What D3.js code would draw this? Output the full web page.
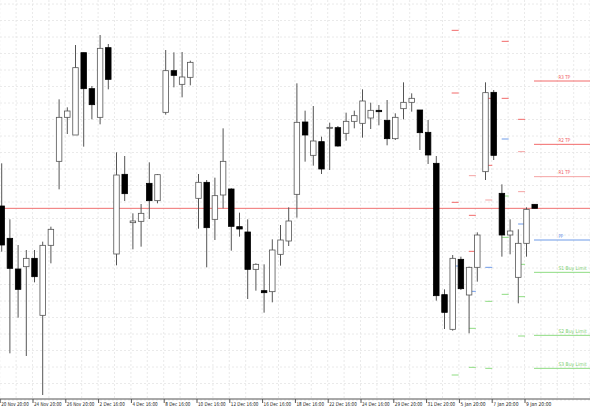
<!DOCTYPE html>
<html>
<head>
<meta charset="utf-8">
<script src="https://cdn.jsdelivr.net/npm/d3@7"></script>
<style>
body { margin: 0; background: #fff; }
svg { display: block; font-family: "DejaVu Sans", sans-serif; }
</style>
</head>
<body>
<svg width="590" height="410"></svg>
<script>
// price levels in chart quote units (inverted: larger number = lower price)
const opens  = [558,655,747,740,715,886,676,424,292,345,98,206,292,83,702,463,608,604,490,542,277,152,193,172,
  535,487,598,525,507,620,636,748,812,815,703,663,523,306,406,365,325,323,340,304,310,294,271,301,356,266,247,270,337,430,824,928,718,825,742,455,217,520,645,772,670,553];
const closes = [675,745,808,715,770,676,628,292,273,143,206,254,85,178,465,521,603,580,542,464,152,166,171,127,
  487,623,527,424,619,627,748,733,818,690,660,603,307,345,363,447,322,378,304,287,243,271,275,356,292,247,235,338,405,827,877,715,806,742,645,218,406,645,633,670,568,565];
const highs  = [430,598,675,690,690,665,620,238,262,75,98,198,45,72,397,408,580,552,427,462,90,97,96,122,
  462,480,473,325,505,578,598,730,733,658,615,562,190,272,258,350,308,318,278,272,208,248,255,240,280,187,220,270,300,408,808,705,710,740,637,187,210,493,598,628,562,553];
const lows   = [695,1000,893,1008,787,1125,730,508,342,345,380,298,313,208,736,543,688,680,597,550,284,202,232,196,
  626,742,660,565,692,650,837,812,878,847,737,678,593,425,437,462,450,380,362,325,353,327,316,376,360,298,275,390,432,842,927,932,810,940,785,480,420,710,703,850,710,565];

const tickLabels = ["20 Nov 20:00","24 Nov 20:00","26 Nov 20:00","2 Dec 16:00","4 Dec 16:00","8 Dec 16:00",
  "10 Dec 16:00","12 Dec 16:00","16 Dec 16:00","18 Dec 16:00","22 Dec 16:00","24 Dec 16:00","29 Dec 20:00",
  "31 Dec 20:00","5 Jan 20:00","7 Jan 20:00","9 Jan 20:00"];

const currentLevel = 565;
// current pivot levels (name, level, kind)
const pivotNames  = ["R3 TP","R2 TP","R1 TP","PP","S1 Buy Limit","S2 Buy Limit","S3 Buy Limit"];
const pivotLevels = [183,373,470,660,757,946,1045];
const pivotKinds  = ["r","r","p","b","g","g","g"];
// historical pivot dashes: candle position, level, kind
const histPos    = [55.3,55.3,55.3,55.3,55.3, 57.4,57.4,57.4,57.4,57.4,57.4, 59.4,59.4,59.4,59.4,59.4,59.4,
  61.4,61.4,61.4,61.4,61.4,61.4, 63.4,63.4,63.4,63.4,63.4,63.4,63.4];
const histLevels = [31,219,547,738,1065, 467,586,694,814,925,1042, 235,436,540,742,844,1045,
  64,235,357,528,652,823, 298,395,515,612,733,830,948];
const histKinds  = ["r","r","r","b","g", "p","r","r","b","g","g", "r","r","p","b","g","g",
  "r","r","b","g","g","g", "r","p","p","b","g","g","g"];

const colors = { r: "#f26a6a", p: "#f5a3a3", b: "#6f9be8", g: "#8fdc82" };
const textColors = { r: "#f05a5a", p: "#f05a5a", b: "#5b8be6", g: "#7ccf6e" };

const svg = d3.select("svg");
const W = 590, axisY = 399;

const x = d3.scaleLinear().domain([0, 65]).range([1.7, 534.7]);
const y = d3.scaleLinear().domain([0, 1140]).range([20, 400]);

// grid
const grid = svg.append("g").attr("stroke", "#e4e4e4").attr("stroke-dasharray", "2,2").attr("stroke-width", 0.8);
grid.selectAll("line.v").data(d3.range(0, 37)).join("line")
  .attr("x1", d => x(d * 2) - 2).attr("x2", d => x(d * 2) - 2).attr("y1", 0).attr("y2", axisY);
grid.selectAll("line.h").data(d3.range(0, 25)).join("line")
  .attr("x1", 0).attr("x2", W).attr("y1", d => 4 + d * 16.5).attr("y2", d => 4 + d * 16.5);

// current price line
svg.append("line").attr("x1", 0).attr("x2", W)
  .attr("y1", y(currentLevel)).attr("y2", y(currentLevel))
  .attr("stroke", "#f07070").attr("stroke-width", 1);

// historical pivot dashes
svg.append("g").selectAll("line").data(histPos).join("line")
  .attr("x1", (d) => x(d) - 3.5).attr("x2", d => x(d) + 3.5)
  .attr("y1", (d, i) => y(histLevels[i])).attr("y2", (d, i) => y(histLevels[i]))
  .attr("stroke", (d, i) => colors[histKinds[i]]).attr("stroke-width", 1);

// current pivots
const piv = svg.append("g");
piv.selectAll("line").data(pivotLevels).join("line")
  .attr("x1", 534).attr("x2", W).attr("y1", d => y(d)).attr("y2", d => y(d))
  .attr("stroke", (d, i) => colors[pivotKinds[i]]).attr("stroke-width", 1);
piv.selectAll("text").data(pivotLevels).join("text")
  .attr("x", 558.5).attr("y", d => y(d) - 2.5)
  .attr("font-size", 5).attr("fill", (d, i) => textColors[pivotKinds[i]])
  .attr("textLength", (d, i) => pivotNames[i].length * 2.35).attr("lengthAdjust", "spacingAndGlyphs")
  .text((d, i) => pivotNames[i]);

// candles
const cw = 5.5;
const c = svg.append("g").selectAll("g").data(opens).join("g");
c.append("line")
  .attr("x1", (d, i) => x(i)).attr("x2", (d, i) => x(i))
  .attr("y1", (d, i) => y(highs[i])).attr("y2", (d, i) => y(lows[i]))
  .attr("stroke", "#555").attr("stroke-width", 1);
c.append("rect")
  .attr("x", (d, i) => x(i) - cw / 2).attr("width", cw)
  .attr("y", (d, i) => y(Math.min(d, closes[i])))
  .attr("height", (d, i) => Math.max(1, y(Math.max(d, closes[i])) - y(Math.min(d, closes[i]))))
  .attr("fill", (d, i) => closes[i] > d ? "#000" : "#fff")
  .attr("stroke", (d, i) => closes[i] > d ? "#000" : "#555").attr("stroke-width", 0.8);

// x axis
svg.append("line").attr("x1", 0).attr("x2", W).attr("y1", axisY).attr("y2", axisY)
  .attr("stroke", "#555").attr("stroke-width", 1);
const ax = svg.append("g");
ax.selectAll("line").data(tickLabels).join("line")
  .attr("x1", (d, i) => x(i * 4) - 1.5).attr("x2", (d, i) => x(i * 4) - 1.5)
  .attr("y1", axisY).attr("y2", axisY + 4).attr("stroke", "#555");
ax.selectAll("text").data(tickLabels).join("text")
  .attr("x", (d, i) => x(i * 4) - 0.5).attr("y", axisY + 7)
  .attr("font-size", 5.3).attr("fill", "#222")
  .attr("textLength", d => d.length * 2.3).attr("lengthAdjust", "spacingAndGlyphs")
  .text(d => d);
</script>
</body>
</html>
